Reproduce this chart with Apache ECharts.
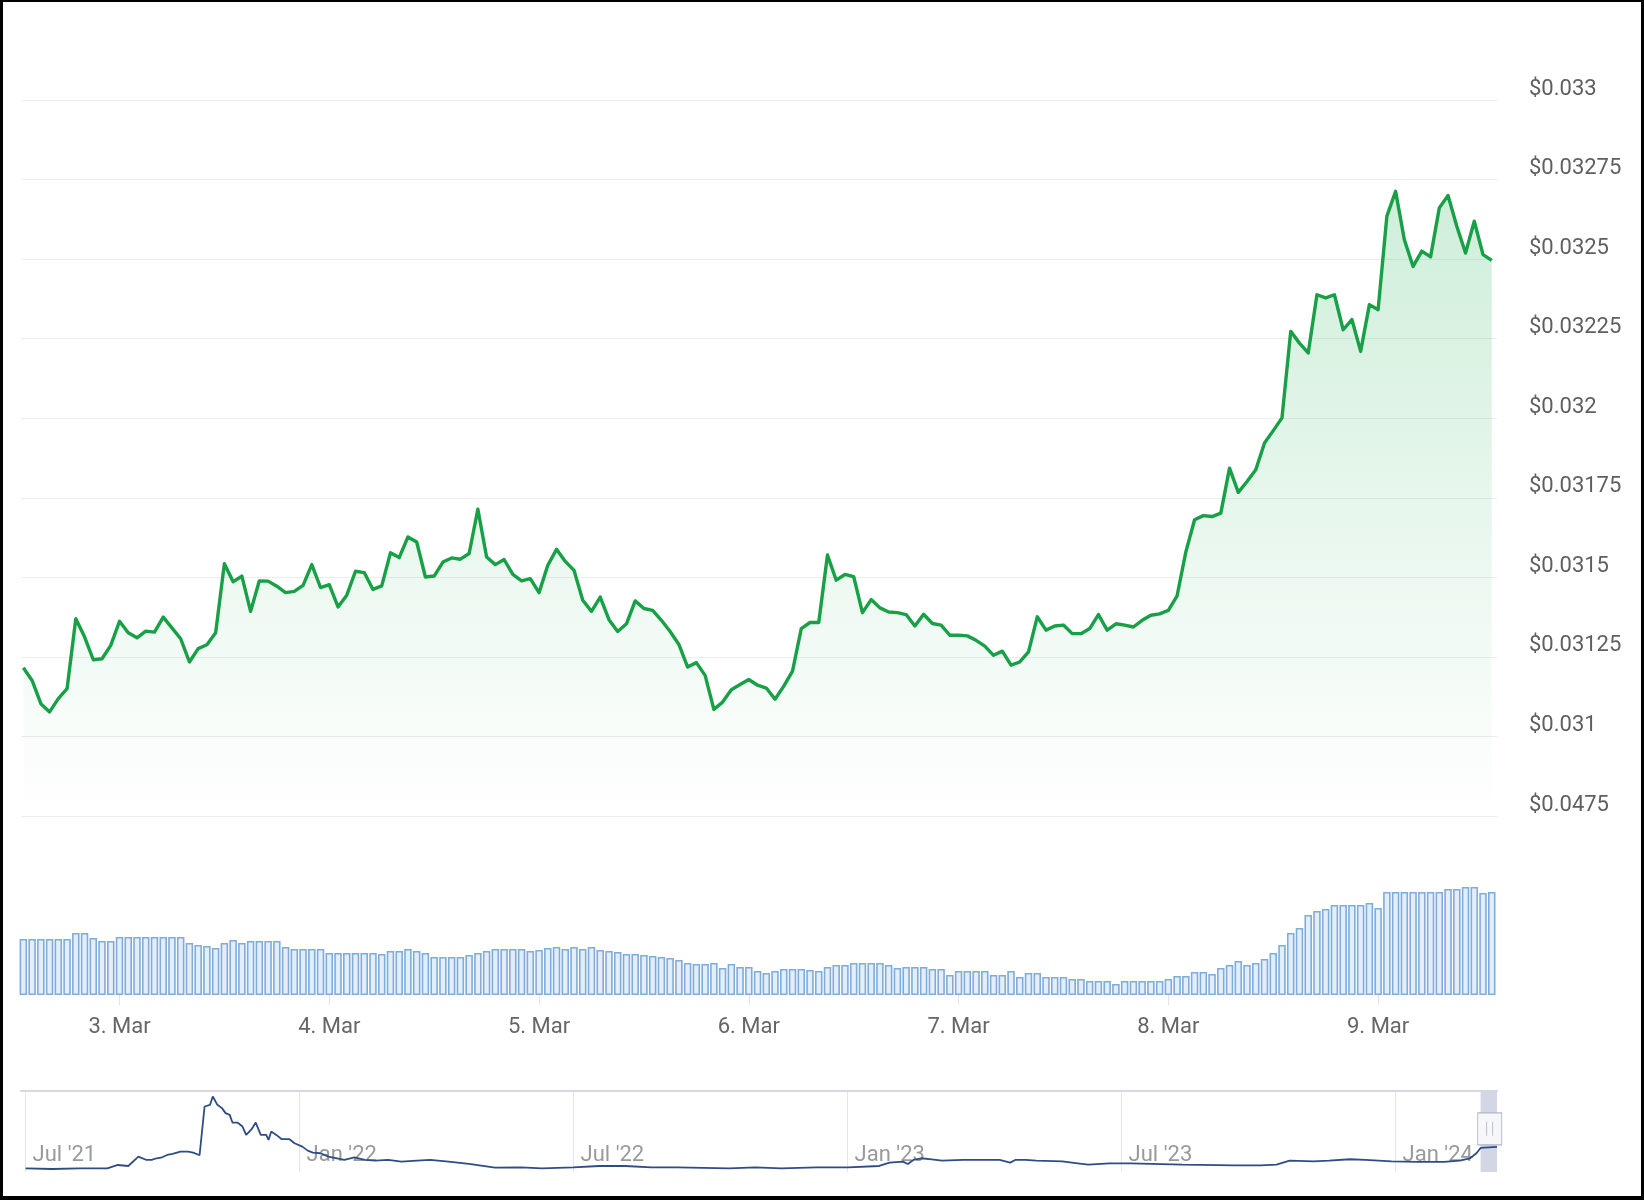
<!DOCTYPE html>
<html>
<head>
<meta charset="utf-8">
<script src="https://cdn.jsdelivr.net/npm/echarts@6/dist/echarts.min.js"></script>
<style>
  html, body { margin: 0; padding: 0; background: #fff; }
  #chart { position: absolute; left: 0; top: 0; width: 1644px; height: 1200px; }
  #frame { position: absolute; left: 0; top: 0; width: 1644px; height: 1200px; box-sizing: border-box;
           border-style: solid; border-color: #000; border-width: 2px 3px 4px 3px; pointer-events: none; }
</style>
</head>
<body>
<div id="chart"></div>
<div id="frame"></div>
<script>
// ---- data ----
// hourly samples, hour counted from 2 Mar 00:00
const startHour = 13;
const priceValues = [
  0.031216,0.031176,0.031103,0.031077,0.031119,0.031150,0.031370,0.031313,0.031241,0.031244,0.031286,
  0.031362,0.031326,0.031310,0.031331,0.031328,0.031375,0.031341,0.031307,0.031234,0.031276,0.031288,0.031326,
  0.031543,0.031486,0.031504,0.031393,0.031489,0.031488,0.031472,0.031452,0.031456,0.031475,0.031540,0.031468,
  0.031477,0.031407,0.031444,0.031519,0.031515,0.031462,0.031473,0.031577,0.031562,0.031627,0.031611,0.031501,
  0.031504,0.031548,0.031561,0.031557,0.031575,0.031714,0.031564,0.031540,0.031556,0.031509,0.031489,0.031496,
  0.031452,0.031538,0.031588,0.031550,0.031522,0.031428,0.031393,0.031438,0.031367,0.031330,0.031354,0.031426,
  0.031402,0.031396,0.031365,0.031330,0.031289,0.031218,0.031232,0.031192,0.031085,0.031108,0.031147,0.031163,
  0.031179,0.031161,0.031152,0.031117,0.031158,0.031205,0.031339,0.031358,0.031358,0.031570,0.031491,0.031509,
  0.031502,0.031389,0.031430,0.031404,0.031391,0.031389,0.031383,0.031347,0.031384,0.031355,0.031350,0.031318,
  0.031318,0.031316,0.031302,0.031284,0.031255,0.031268,0.031224,0.031234,0.031266,0.031376,0.031334,0.031347,
  0.031350,0.031323,0.031323,0.031339,0.031383,0.031334,0.031354,0.031350,0.031344,0.031365,0.031381,0.031385,
  0.031396,0.031442,0.031580,0.031681,0.031694,0.031691,0.031702,0.031843,0.031767,0.031801,0.031838,0.031922,
  0.031961,0.032001,0.032273,0.032236,0.032205,0.032388,0.032378,0.032388,0.032278,0.032310,0.032210,0.032357,
  0.032341,0.032635,0.032713,0.032561,0.032477,0.032525,0.032507,0.032661,0.032700,0.032603,0.032519,0.032619,
  0.032514,0.032496
];
const volumeValues = [
  5.6,5.6,5.6,5.6,5.6,5.6, 6.2,6.2, 5.7,5.4,5.4,
  5.8,5.8,5.8,5.8,5.8,5.8,5.8,5.8,
  5.2,5.0,4.9,4.7,
  5.2,5.5,5.2,5.4,5.4,5.4,5.4,
  4.8,4.6,4.6,4.6,4.6,
  4.2,4.2,4.2,4.2,4.2,4.2,4.1,
  4.4,4.4,4.6,4.4,4.2,
  3.8,3.8,3.8,3.8,4.0,
  4.2,4.4,4.6,4.6,4.6,4.6,4.4,4.5,
  4.7,4.8,4.6,4.8,4.6,4.8,
  4.5,4.4,4.3,4.1,4.1,4.0,3.9,3.8,3.7,
  3.5,3.2,3.1,3.1,3.2,2.7,3.1,2.8,2.8,2.4,2.2,2.4,2.6,2.6,2.6,2.5,
  2.4,2.8,3.0,3.0,3.2,3.2,3.2,3.2,3.0,2.7,2.8,2.8,2.8,2.6,2.6,2.0,
  2.4,2.4,2.4,2.4,2.0,2.0,2.4,1.8,2.2,2.2,1.8,1.8,1.8,1.6,1.6,
  1.4,1.4,1.4,1.1,1.4,1.4,1.4,1.4,1.4,1.6,1.9,1.9,2.3,2.3,2.1,
  2.7,3.0,3.4,3.0,3.2,3.6,4.2,5.0,6.2,6.7,8.0,8.4,8.6,
  9.0,9.0,9.0,9.0,9.2,8.7,
  10.3,10.3,10.3,10.3,10.3,10.3,10.3,10.6,10.6,10.8,10.8,10.2,10.3
];
const dayTickHours = [24, 48, 72, 96, 120, 144, 168];
const dayTickLabels = ['3. Mar', '4. Mar', '5. Mar', '6. Mar', '7. Mar', '8. Mar', '9. Mar'];
const yTickLabels = ['$0.0475', '$0.031', '$0.03125', '$0.0315', '$0.03175', '$0.032', '$0.03225', '$0.0325', '$0.03275', '$0.033'];

// navigator: months since 1 Jul 2021
const navMonths = [0,0.59,1.17,1.79,2.02,2.25,2.47,2.65,2.76,2.87,2.99,3.10,3.22,3.39,3.56,3.67,3.81,3.92,4.04,4.10,4.20,4.30,4.38,4.47,4.53,4.64,4.75,4.83,4.95,5.04,5.15,5.27,5.32,5.38,5.49,5.61,5.78,5.89,6.06,6.18,6.29,6.46,6.63,6.98,7.20,7.43,7.66,7.94,8.23,8.57,8.86,9.26,9.71,10.28,10.85,11.31,11.99,12.56,13.13,13.70,14.27,15.41,15.98,16.55,17.32,18.01,18.69,18.92,19.21,19.32,19.44,19.61,19.84,20.07,20.53,21.33,21.56,21.67,21.90,22.13,22.70,23.04,23.27,23.73,24.19,25.33,26.48,27.05,27.39,27.68,28.20,28.54,29.00,29.34,29.91,30.48,31.06,31.40,31.63,31.77,31.86,32.22];
const navPrices = [0.0048,0.0039,0.0048,0.0048,0.0091,0.0078,0.0199,0.0156,0.0156,0.0178,0.0191,0.0221,0.0234,0.0264,0.0264,0.0251,0.0217,0.0849,0.0871,0.0979,0.0871,0.0828,0.0763,0.0741,0.0641,0.0641,0.0589,0.0481,0.0555,0.0641,0.0481,0.0481,0.0416,0.0524,0.0481,0.0425,0.0425,0.0373,0.0329,0.0277,0.0251,0.0243,0.0199,0.0156,0.0191,0.0156,0.0147,0.0156,0.0134,0.0147,0.0156,0.0134,0.0104,0.0056,0.0061,0.0048,0.0061,0.0078,0.0078,0.0061,0.0061,0.0048,0.0061,0.0048,0.0061,0.0061,0.0078,0.0121,0.0134,0.0104,0.0156,0.0178,0.0165,0.0147,0.0156,0.0156,0.0121,0.0156,0.0156,0.0147,0.0139,0.0113,0.0095,0.0113,0.0113,0.0095,0.0087,0.0087,0.0095,0.0147,0.0139,0.0147,0.0165,0.0156,0.0139,0.0130,0.0130,0.0147,0.0178,0.0243,0.0312,0.0325];
const navTickMonths = [0, 6, 12, 18, 24, 30];
const navTickLabels = ["Jul '21", "Jan '22", "Jul '22", "Jan '23", "Jul '23", "Jan '24"];
const navSelection = [31.86, 32.22];

// ---- build ----
const pricePts = priceValues.map((v, i) => [startHour + i, v]);
const volPts = volumeValues.map((v, i) => [startHour + i, v]);
const navPts = navMonths.map((m, i) => [m, navPrices[i]]);

const xMin = 12.73, xMax = 181.6;
const FONT = 'Roboto, "Noto Sans", sans-serif';

const chart = echarts.init(document.getElementById('chart'), null, { renderer: 'canvas' });
chart.setOption({
  animation: false,
  backgroundColor: '#ffffff',
  grid: [
    { left: 21, right: 147, top: 100, height: 716 },
    { left: 21, right: 147, top: 880, height: 115 },
    { left: 21, right: 147, top: 1091, height: 81 }
  ],
  xAxis: [
    { type: 'value', gridIndex: 0, min: xMin, max: xMax, show: false },
    { type: 'value', gridIndex: 1, min: xMin, max: xMax,
      axisLine: { show: false },
      splitLine: { show: false },
      axisTick: { show: true, length: 10, customValues: dayTickHours, lineStyle: { color: '#e3e3e3', width: 1 } },
      axisLabel: { customValues: dayTickHours, margin: 21, fontSize: 22, fontFamily: FONT, color: '#666666',
        formatter: (v) => dayTickLabels[dayTickHours.indexOf(Math.round(v))] || '' } },
    { type: 'value', gridIndex: 2, min: -0.1, max: 32.22,
      axisLine: { show: false },
      axisTick: { show: false, customValues: navTickMonths },
      splitLine: { show: true, lineStyle: { color: '#e6e6ea', width: 1 } },
      axisLabel: { inside: true, customValues: navTickMonths, margin: 6, fontSize: 22, fontFamily: FONT,
        color: '#9a9a9a', align: 'left', padding: [0, 0, 0, 7],
        formatter: (v) => navTickLabels[navTickMonths.indexOf(Math.round(v))] || '' } },
    { type: 'value', gridIndex: 2, position: 'top', min: -0.1, max: 32.22,
      axisLine: { show: true, lineStyle: { color: '#d6d7e0', width: 2 } },
      axisTick: { show: false }, axisLabel: { show: false }, splitLine: { show: false } }
  ],
  yAxis: [
    { type: 'value', gridIndex: 0, position: 'right', min: 0.03075, max: 0.033, interval: 0.00025,
      axisLine: { show: false }, axisTick: { show: false },
      splitLine: { show: true, lineStyle: { color: '#ededed', width: 1 } },
      axisLabel: { margin: 32, fontSize: 22, fontFamily: FONT, color: '#5f5f5f', align: 'left',
        verticalAlign: 'bottom',
        formatter: (v) => yTickLabels[Math.round((v - 0.03075) / 0.00025)] } },
    { type: 'value', gridIndex: 1, min: 0, max: 11.5, show: false, splitLine: { show: false } },
    { type: 'value', gridIndex: 2, min: 0, max: 0.105, show: false, splitLine: { show: false } }
  ],
  series: [
    {
      type: 'line', xAxisIndex: 0, yAxisIndex: 0, data: pricePts,
      showSymbol: false, symbol: 'none',
      lineStyle: { color: '#17a046', width: 3.4, join: 'round' },
      areaStyle: {
        color: new echarts.graphic.LinearGradient(0, 0, 0, 1, [
          { offset: 0, color: 'rgba(40,180,90,0.32)' },
          { offset: 1, color: 'rgba(40,180,90,0.0)' }
        ])
      }
    },
    {
      type: 'bar', xAxisIndex: 1, yAxisIndex: 1, data: volPts,
      barWidth: 7.5,
      itemStyle: { color: '#e3eefa', borderColor: '#80acd9', borderWidth: 1.6 }
    },
    {
      type: 'line', xAxisIndex: 2, yAxisIndex: 2, data: navPts,
      showSymbol: false, symbol: 'none',
      lineStyle: { color: '#2e4c86', width: 1.8 },
      markArea: {
        silent: true,
        itemStyle: { color: '#d3d6e4', opacity: 1 },
        data: [[{ xAxis: navSelection[0] }, { xAxis: navSelection[1] }]]
      },
      markPoint: {
        silent: true,
        symbol: 'path://M0,0L24,0L24,32L0,32Z M9,9L9,23 M15,9L15,23',
        symbolSize: [24, 32],
        itemStyle: { color: '#f7f7fa', borderColor: '#b2b5c7', borderWidth: 1 },
        label: { show: false },
        data: [{ coord: [(navSelection[0] + navSelection[1]) / 2 + 0.02, 0.056] }]
      }
    }
  ]
});
</script>
</body>
</html>
